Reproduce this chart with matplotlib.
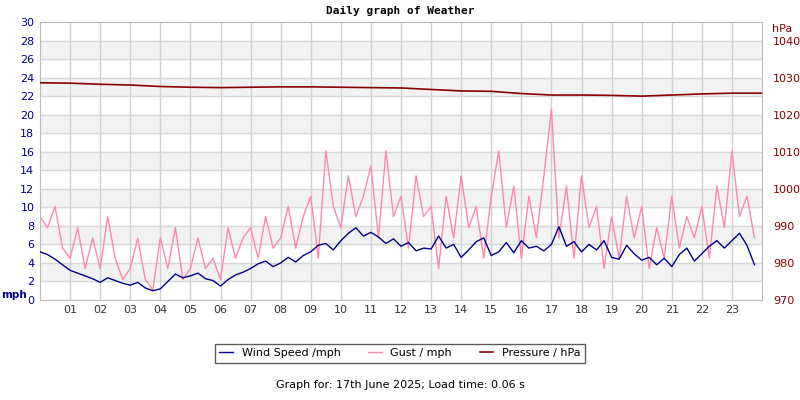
import numpy as np
import matplotlib
matplotlib.use("Agg")
import matplotlib.pyplot as plt

# wind speed, 15-minute readings (mph)
wind = [5.2, 4.9, 4.4, 3.8, 3.2, 2.9, 2.6, 2.3, 1.9, 2.4, 2.1, 1.8,
        1.6, 1.9, 1.3, 1.0, 1.2, 2.0, 2.8, 2.4, 2.6, 2.9, 2.3, 2.1,
        1.5, 2.2, 2.7, 3.0, 3.4, 3.9, 4.2, 3.6, 4.0, 4.6, 4.1, 4.8,
        5.2, 5.9, 6.1, 5.4, 6.4, 7.2, 7.8, 6.9, 7.3, 6.8, 6.1, 6.6,
        5.8, 6.2, 5.3, 5.6, 5.5, 6.9, 5.6, 6.0, 4.6, 5.4, 6.3, 6.7,
        4.8, 5.2, 6.2, 5.1, 6.4, 5.6, 5.8, 5.3, 6.0, 7.9, 5.8, 6.3,
        5.2, 6.0, 5.4, 6.4, 4.6, 4.4, 5.9, 5.0, 4.3, 4.6, 3.8, 4.5,
        3.6, 4.9, 5.6, 4.2, 5.0, 5.8, 6.4, 5.6, 6.4, 7.2, 5.9, 3.8]

# gust, 15-minute readings (mph)
gust = [9.0, 7.8, 10.1, 5.6, 4.5, 7.8, 3.4, 6.7, 3.4, 9.0, 4.5, 2.2,
        3.4, 6.7, 2.2, 1.1, 6.7, 3.4, 7.8, 2.2, 3.4, 6.7, 3.4, 4.5,
        2.2, 7.8, 4.5, 6.7, 7.8, 4.5, 9.0, 5.6, 6.7, 10.1, 5.6, 9.0,
        11.2, 4.5, 16.1, 10.1, 7.8, 13.4, 9.0, 11.2, 14.5, 6.7, 16.1, 9.0,
        11.2, 5.6, 13.4, 9.0, 10.1, 3.4, 11.2, 6.7, 13.4, 7.8, 10.1, 4.5,
        11.2, 16.1, 7.8, 12.3, 4.5, 11.2, 6.7, 13.4, 20.6, 6.7, 12.3, 4.5,
        13.4, 7.8, 10.1, 3.4, 9.0, 4.5, 11.2, 6.7, 10.1, 3.4, 7.8, 4.5,
        11.2, 5.6, 9.0, 6.7, 10.1, 4.5, 12.3, 7.8, 16.1, 9.0, 11.2, 6.7]

# pressure, hourly (hPa)
pressure = [1028.6, 1028.5, 1028.2, 1028.0, 1027.6, 1027.4, 1027.3, 1027.4,
            1027.5, 1027.5, 1027.4, 1027.3, 1027.2, 1026.8, 1026.4, 1026.3,
            1025.7, 1025.3, 1025.3, 1025.2, 1025.0, 1025.3, 1025.6, 1025.8,
            1025.8]

hour_labels = ["%02d" % h for h in range(1, 24)]

t15 = np.arange(len(wind)) * 0.25
t_hr = np.linspace(0, 24, len(pressure))

fig = plt.figure(figsize=(8, 4), dpi=100)
ax = fig.add_axes([0.05, 0.25, 0.9025, 0.695])
ax2 = ax.twinx()

for y0 in range(2, 30, 4):
    ax.axhspan(y0, y0 + 2, color="#f2f2f2", zorder=0)
for y in range(2, 30, 2):
    ax.axhline(y, color="#d8d8d8", lw=1, zorder=0.5)
for h in range(1, 24):
    ax.axvline(h, color="#d0d0d0", lw=1, zorder=0.5)

ax.plot(t15, gust, color="#ff88aa", lw=1, zorder=2, label="Gust / mph")
ax.plot(t15, wind, color="#000088", lw=1, zorder=3, label="Wind Speed /mph")
ax2.plot(t_hr, pressure, color="#880000", lw=1.2, label="Pressure / hPa")

ax.set_xlim(0, 24)
ax.set_ylim(0, 30)
ax2.set_ylim(970, 1045)
ax.set_yticks(range(0, 31, 2))
ax2.set_yticks(range(970, 1041, 10))
ax.set_xticks(range(1, 24))
ax.set_xticklabels(hour_labels)
ax.tick_params(axis="y", colors="#000088", labelsize=8, length=0, pad=4)
ax.tick_params(axis="x", labelsize=8, length=0, colors="#333333")
ax2.tick_params(axis="y", colors="#880000", labelsize=8, length=0, pad=8)
for s in ax.spines.values():
    s.set_color("#bbbbbb")
for s in ax2.spines.values():
    s.set_visible(False)

fig.text(0.001, 0.255, "mph", color="#000088", fontsize=7.5, fontweight="bold")
fig.text(0.965, 0.92, "hPa", color="#880000", fontsize=8)
fig.text(0.5, 0.965, "Daily graph of Weather", ha="center", fontsize=8,
         fontweight="bold", family="DejaVu Sans Mono")

h1, l1 = ax.get_legend_handles_labels()
h2, l2 = ax2.get_legend_handles_labels()
order = [1, 0]
fig.legend([h1[i] for i in order] + h2, [l1[i] for i in order] + l2,
           loc="center", bbox_to_anchor=(0.5, 0.117), ncol=3, fontsize=8,
           frameon=True, fancybox=False, edgecolor="#333333", handlelength=1.2,
           columnspacing=2.5)
fig.text(0.5, 0.03, "Graph for: 17th June 2025; Load time: 0.06 s",
         ha="center", fontsize=8)

fig.savefig("out.png", dpi=100)
